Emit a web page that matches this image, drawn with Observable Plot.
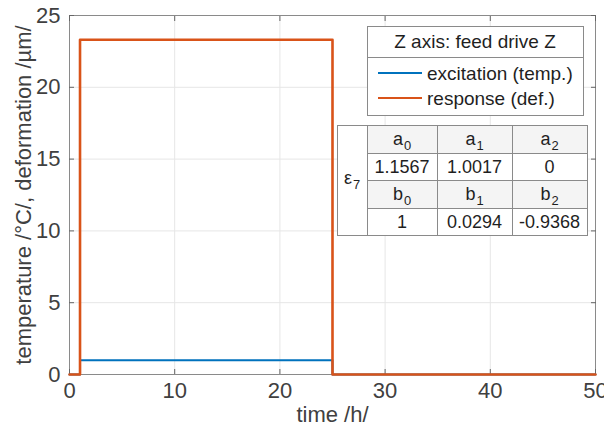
<!DOCTYPE html>
<html>
<head>
<meta charset="utf-8">
<script src="https://cdn.jsdelivr.net/npm/d3@7"></script>
<script src="https://cdn.jsdelivr.net/npm/@observablehq/plot@0.6"></script>
<style>
  body { margin: 0; background: #fff; }
  #chart { width: 604px; height: 427px; }
</style>
</head>
<body>
<div id="chart"></div>
<script>
// Step experiment: temperature excitation and deformation response over time
const time        = [0, 1, 25, 50];
const temperature = [0, 1, 0, 0];
const deformation = [0, 23.31, 0, 0];

const xTicks = [0, 10, 20, 30, 40, 50];
const yTicks = [0, 5, 10, 15, 20, 25];

const xLabel = "time /h/";
const yLabel = "temperature /°C/, deformation /µm/";

const legendTitle  = "Z axis: feed drive Z";
const seriesNames  = ["excitation (temp.)", "response (def.)"];
const seriesColors = ["#0072BD", "#D95319"];

// Transfer-function coefficients of model ε7
const modelName         = ["ε", "7"];
const numeratorLabels   = [["a", "0"], ["a", "1"], ["a", "2"]];
const numeratorCoeffs   = ["1.1567", "1.0017", "0"];
const denominatorLabels = [["b", "0"], ["b", "1"], ["b", "2"]];
const denominatorCoeffs = ["1", "0.0294", "-0.9368"];

const font = "'Liberation Sans', Arial, Helvetica, sans-serif";
const rows = time.map((t, i) => ({t, temp: temperature[i], def: deformation[i]}));
const blank = () => "";

const chart = Plot.plot({
  width: 604,
  height: 427,
  marginLeft: 69,
  marginRight: 9,
  marginTop: 15,
  marginBottom: 53,
  style: {fontFamily: font, fontSize: "22px", color: "#404040", background: "#fff", overflow: "visible"},
  x: {domain: [0, 50], label: null},
  y: {domain: [0, 25], label: null},
  marks: [
    Plot.gridX(xTicks, {stroke: "#e6e6e6", strokeOpacity: 1}),
    Plot.gridY(yTicks, {stroke: "#e6e6e6", strokeOpacity: 1}),
    Plot.frame({stroke: "#8a8a8a", strokeOpacity: 1}),
    Plot.axisX(xTicks, {anchor: "bottom", tickSize: -5, tickPadding: 13, stroke: "#666", fill: "#404040", label: null}),
    Plot.axisX(xTicks, {anchor: "top", tickSize: -5, tickFormat: blank, stroke: "#666", label: null}),
    Plot.axisY(yTicks, {anchor: "left", tickSize: -5, tickPadding: 14, stroke: "#666", fill: "#404040", label: null}),
    Plot.axisY(yTicks, {anchor: "right", tickSize: -5, tickFormat: blank, stroke: "#666", label: null}),
    Plot.line(rows, {x: "t", y: "temp", curve: "step-after", stroke: seriesColors[0], strokeWidth: 2}),
    Plot.line(rows, {x: "t", y: "def", curve: "step-after", stroke: seriesColors[1], strokeWidth: 2.6}),
    Plot.text([xLabel], {frameAnchor: "bottom", dy: 40, lineAnchor: "middle", fill: "#404040", fontSize: 22}),
    Plot.text([yLabel], {frameAnchor: "left", textAnchor: "middle", dx: -46, rotate: -90, lineAnchor: "middle", fill: "#404040", fontSize: 22})
  ]
});
document.getElementById("chart").append(chart);

// Legend and coefficient table drawn inside the axes
const svg = d3.select(chart);
const ink = "#1f1f1f";
const edge = "#8a8a8a";
const g = svg.append("g").attr("font-family", font).attr("fill", ink);

function withSub(text, [base, s], size) {
  text.append("tspan").text(base);
  text.append("tspan").attr("dx", 1).attr("dy", size * 0.32).attr("font-size", size * 0.72).text(s);
}

// legend
const L = {x0: 367, x1: 583, y0: 26, y1: 115, sep: 57};
g.append("rect")
  .attr("x", L.x0 + 0.5).attr("y", L.y0 + 0.5)
  .attr("width", L.x1 - L.x0).attr("height", L.y1 - L.y0)
  .attr("fill", "#fff").attr("stroke", edge);
g.append("line")
  .attr("x1", L.x0).attr("x2", L.x1)
  .attr("y1", L.sep + 0.5).attr("y2", L.sep + 0.5)
  .attr("stroke", edge);
g.append("text")
  .attr("x", (L.x0 + L.x1) / 2).attr("y", (L.y0 + L.sep) / 2)
  .attr("text-anchor", "middle").attr("dominant-baseline", "central")
  .attr("font-size", 19).text(legendTitle);
const entryY = [73, 98];
seriesNames.forEach((name, i) => {
  g.append("line")
    .attr("x1", 378).attr("x2", 422)
    .attr("y1", entryY[i]).attr("y2", entryY[i])
    .attr("stroke", seriesColors[i]).attr("stroke-width", 2);
  g.append("text")
    .attr("x", 427).attr("y", entryY[i])
    .attr("text-anchor", "start").attr("dominant-baseline", "central")
    .attr("font-size", 19).text(name);
});

// coefficient table
const colX = [337, 367, 437, 512, 587];
const rowY = [125, 153, 180, 208, 235];
const tableRows = [
  {cells: numeratorLabels, sub: true, fill: "#f4f4f4"},
  {cells: numeratorCoeffs, sub: false, fill: "#fff"},
  {cells: denominatorLabels, sub: true, fill: "#f4f4f4"},
  {cells: denominatorCoeffs, sub: false, fill: "#fff"}
];
const tsize = 18;
g.append("rect")
  .attr("x", colX[0] + 0.5).attr("y", rowY[0] + 0.5)
  .attr("width", colX[4] - colX[0]).attr("height", rowY[4] - rowY[0])
  .attr("fill", "#fff").attr("stroke", edge);
tableRows.forEach((row, r) => {
  row.cells.forEach((cell, c) => {
    g.append("rect")
      .attr("x", colX[c + 1] + 0.5).attr("y", rowY[r] + 0.5)
      .attr("width", colX[c + 2] - colX[c + 1]).attr("height", rowY[r + 1] - rowY[r])
      .attr("fill", row.fill).attr("stroke", edge);
    const t = g.append("text")
      .attr("x", (colX[c + 1] + colX[c + 2]) / 2)
      .attr("y", (rowY[r] + rowY[r + 1]) / 2)
      .attr("text-anchor", "middle").attr("dominant-baseline", "central")
      .attr("font-size", tsize);
    if (row.sub) withSub(t, cell, tsize);
    else t.text(cell);
  });
});
const eps = g.append("text")
  .attr("x", (colX[0] + colX[1]) / 2)
  .attr("y", (rowY[0] + rowY[4]) / 2 - 2)
  .attr("text-anchor", "middle").attr("dominant-baseline", "central")
  .attr("font-size", tsize);
withSub(eps, modelName, tsize);
</script>
</body>
</html>
